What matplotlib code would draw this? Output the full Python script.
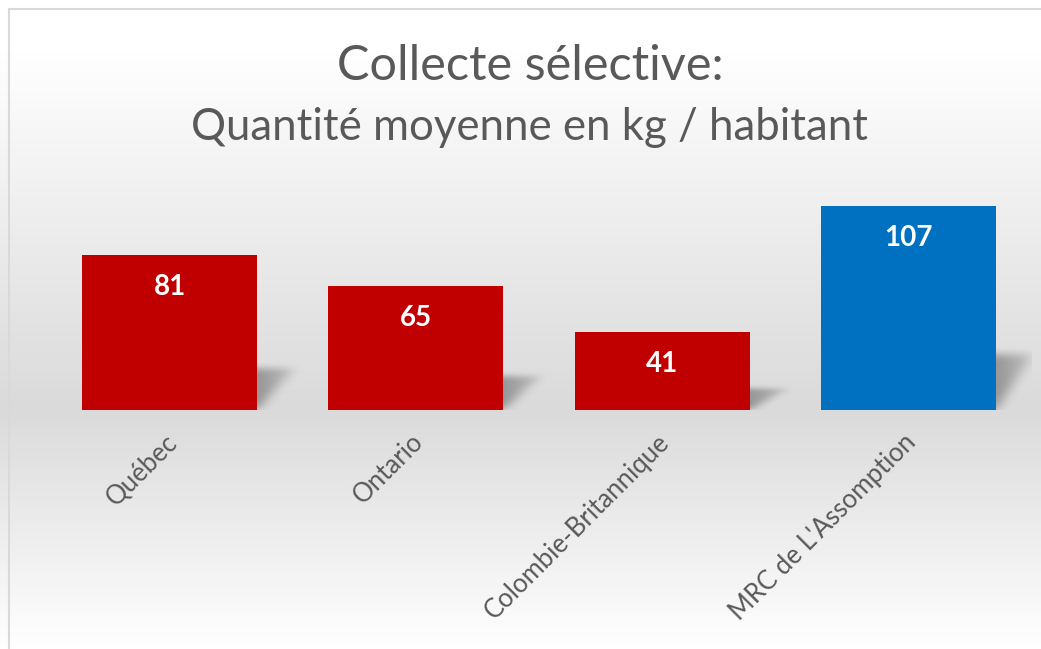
import numpy as np
import matplotlib
matplotlib.use("Agg")
import matplotlib.pyplot as plt
from matplotlib.lines import Line2D
from matplotlib.transforms import ScaledTranslation

categories = ["Québec", "Ontario", "Colombie-Britannique", "MRC de L'Assomption"]
values = [81, 65, 41, 107]
colors = ["#C00000", "#C00000", "#C00000", "#0070C0"]
title_1 = "Collecte sélective:"
title_2 = "Quantité moyenne en kg / habitant"

plt.rcParams['font.family'] = ['Lato', 'DejaVu Sans']

fig = plt.figure(figsize=(10.41, 6.49), dpi=100)

# background gradient (white -> gray -> white)
bg = fig.add_axes([0, 0, 1, 1], zorder=-5)
ys = np.linspace(0, 1, 649)
stops_y = [0.0, 0.08, 0.63, 1.0]
stops_v = [1.0, 1.0, 0.855, 1.0]
col = np.interp(ys, stops_y, stops_v)
grad = np.repeat(col[:, None], 10, axis=1)
bg.imshow(np.dstack([grad, grad, grad]), aspect='auto', extent=[0, 1, 1, 0])
bg.set_xlim(0, 1)
bg.set_ylim(1, 0)
bg.axis('off')

# chart border
fig.add_artist(Line2D([8.5 / 1041, 8.5 / 1041], [0, 1 - 9 / 649], color="#d9d9d9", lw=1.5))
fig.add_artist(Line2D([8.5 / 1041, 1], [1 - 9 / 649, 1 - 9 / 649], color="#d9d9d9", lw=1.5))

fig.text(0.509, 1 - 66 / 649, title_1, ha='center', va='center', fontsize=35, color="#595959")
fig.text(0.509, 1 - 127 / 649, title_2, ha='center', va='center', fontsize=31.5, color="#595959")

ax = fig.add_axes([46.5 / 1041, 239 / 649, 985 / 1041, 229 / 649])
ax.patch.set_alpha(0)
x = np.arange(len(categories))
width = 0.71

# soft shadows behind the bars
def blur(a, k):
    ker = np.ones(k) / k
    a = np.apply_along_axis(lambda r: np.convolve(r, ker, mode='same'), 1, a)
    a = np.apply_along_axis(lambda c: np.convolve(c, ker, mode='same'), 0, a)
    return a

for xi, v in zip(x, values):
    xl, xr = xi - width / 2, xi + width / 2
    dx = 0.15
    sh = v * 0.27
    x0, x1 = xl, xr + dx + 0.12
    y0, y1 = -4, sh + 10
    nx, ny = 240, 120
    gx, gy = np.meshgrid(np.linspace(x0, x1, nx), np.linspace(y1, y0, ny))
    t = np.clip(gy / sh, 0, 1)
    inside = (gy >= 0) & (gy <= sh) & (gx >= xl + dx * t) & (gx <= xr + dx * t)
    # darker close to the bar, fading to the right
    fade = np.clip(1 - (gx - xr) / (dx + 0.1), 0.35, 1)
    m = blur(inside.astype(float) * fade, 15)
    m = blur(m, 11)
    rgba = np.zeros((ny, nx, 4))
    rgba[..., :3] = 0.4
    rgba[..., 3] = m * 0.6
    ax.imshow(rgba, extent=[x0, x1, y0, y1], aspect='auto', zorder=1, interpolation='bilinear')

bars = ax.bar(x, values, width=width, color=colors, zorder=2)
for xi, v in zip(x, values):
    ax.text(xi, v - 16.8, str(v), ha='center', va='center', color='white',
            fontsize=20, fontweight='bold', zorder=3)

ax.set_xlim(-0.5, 3.5)
ax.set_ylim(0, 120)
ax.set_xticks(x)
ax.set_xticklabels(categories, rotation=45, ha='right', rotation_mode='anchor',
                   fontsize=18.5, color="#595959")
ax.tick_params(axis='x', length=0, pad=14)
shift = ScaledTranslation(-5 / 100, 0, fig.dpi_scale_trans)
for lbl in ax.get_xticklabels():
    lbl.set_transform(lbl.get_transform() + shift)
ax.set_yticks([])
for s in ax.spines.values():
    s.set_visible(False)

fig.savefig("out.png", dpi=100)
